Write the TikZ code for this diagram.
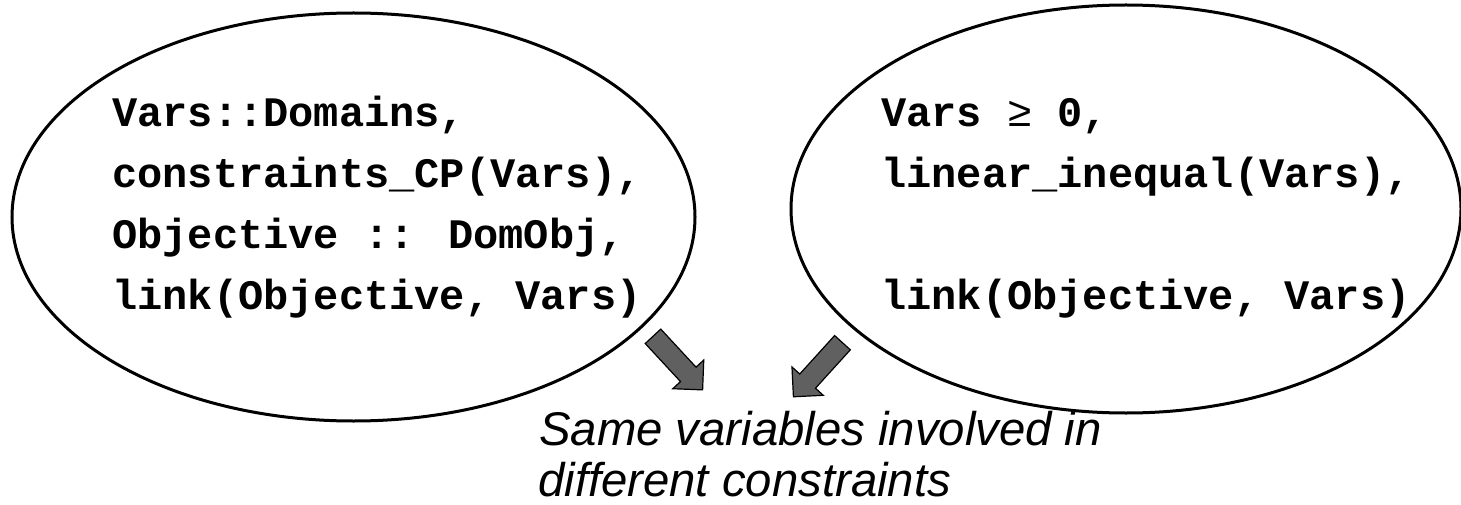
\documentclass[tikz,border=0pt]{standalone}
\usepackage{fontspec}
\newfontfamily\codefont{Liberation Mono}
\newfontfamily\notefont{Liberation Sans}
\usetikzlibrary{shapes.geometric,shapes.arrows}
\definecolor{arrowgray}{HTML}{606060}
\tikzset{
  oval/.style={draw=black, line width=3pt, ellipse, inner sep=0pt, fill=none},
  code/.style={anchor=base west, inner sep=0pt, text=black, font=\codefont\bfseries\fontsize{42}{50}\selectfont},
  note/.style={anchor=base west, inner sep=0pt, text=black, font=\notefont\itshape\fontsize{47.3}{52}\selectfont},
  blockarrow/.style={single arrow, draw=black, line width=1.2pt, fill=arrowgray,
    single arrow tip angle=90, single arrow head extend=10.5pt,
    minimum height=73pt, inner xsep=0pt, inner ysep=10pt, outer sep=0pt},
}
\begin{document}
\begin{tikzpicture}[x=1pt,y=-1pt]
\useasboundingbox (0,0) rectangle (1461,505);
% ellipses
\node[oval, minimum width=683pt, minimum height=408pt] (E1) at (353.5,217) {};
\node[oval, minimum width=670pt, minimum height=408pt] (E2) at (1126,209) {};
% left ellipse text
\node[code] (L1) at (112,127) {Vars::Domains,};
\node[code] (L2) at (112,187.7) {constraints\_CP(Vars),};
\node[code] (L3) at (112,248.3) {Objective :: DomObj,};
\node[code] (L4) at (112,309) {link(Objective, Vars)};
% right ellipse text
\node[code] (R1) at (881,127) {Vars {\mdseries ≥} 0,};
\node[code] (R2) at (881,187.7) {linear\_inequal(Vars),};
\node[code] (R4) at (881,309) {link(Objective, Vars)};
% block arrows
\node[blockarrow, rotate=-47.2] (A1) at (674.2,359.2) {};
\node[blockarrow, rotate=-132.2] (A2) at (821.5,365.8) {};
% note
\node[note] (N1) at (539,445) {Same variables involved in};
\node[note] (N2) at (538,496) {different constraints};
\end{tikzpicture}
\end{document}
